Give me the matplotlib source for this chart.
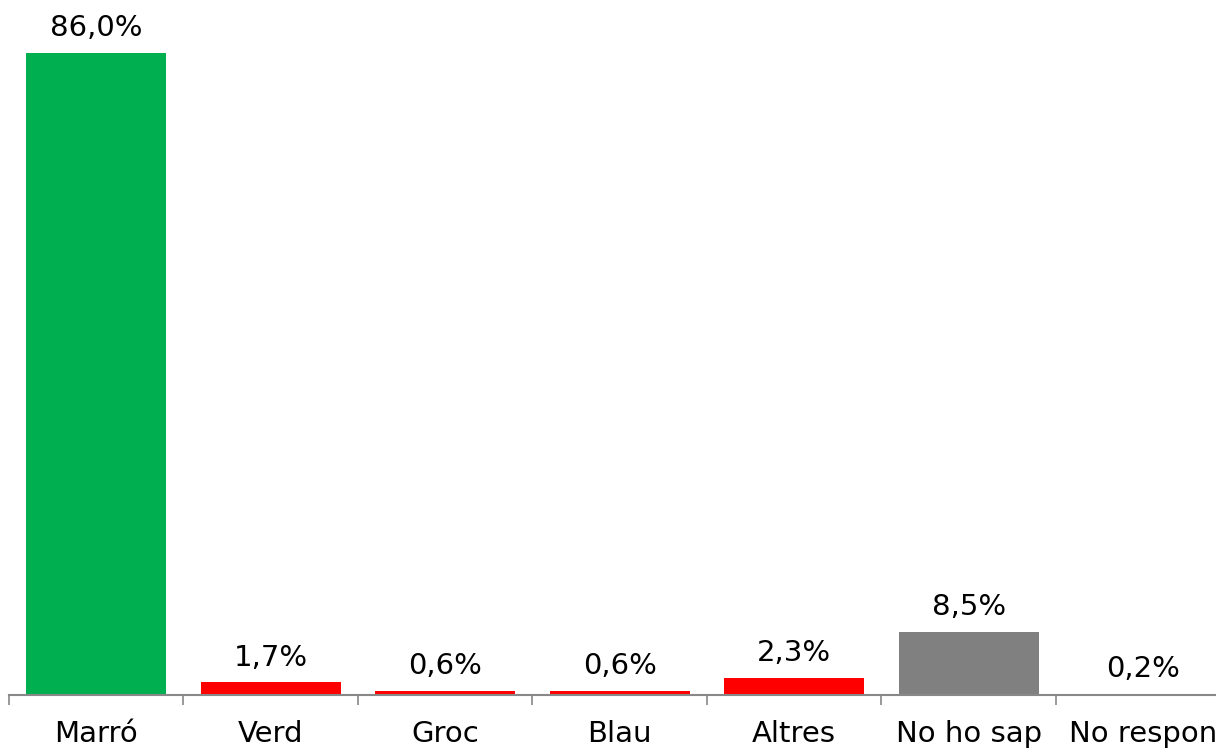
import numpy as np
import matplotlib
matplotlib.use("Agg")
from matplotlib import pyplot as plt

categories = ["Marró", "Verd", "Groc", "Blau", "Altres", "No ho sap", "No respon"]
values = [86.0, 1.7, 0.6, 0.6, 2.3, 8.5, 0.2]
colors = ["#00B050", "#FF0000", "#FF0000", "#FF0000", "#FF0000", "#808080", "#808080"]

plt.rcParams["font.family"] = "DejaVu Sans"

fig = plt.figure(figsize=(12.16, 7.56), dpi=100)
# axes spills past the right edge so the last category is cut, as in the original
ax = fig.add_axes([9 / 1216, 61 / 756, 7 * 174.5 / 1216, 642 / 756])

x = np.arange(len(categories))
bars = ax.bar(x, values, width=0.8, color=colors)

for xi, v in zip(x, values):
    label = f"{v:.1f}%".replace(".", ",")
    ax.annotate(label, (xi, v), xytext=(0, 12), textcoords="offset points",
                ha="center", va="baseline", fontsize=21)

ax.set_xlim(-0.5, len(categories) - 0.5)
ax.set_ylim(0, 86)

# boundary ticks without labels, category names on minor ticks
ax.set_xticks(np.arange(len(categories) + 1) - 0.5)
ax.set_xticklabels([])
ax.set_xticks(x, minor=True)
ax.set_xticklabels(categories, minor=True, fontsize=21)
ax.tick_params(axis="x", which="major", direction="out", length=7, width=1.2, color="#888888")
ax.tick_params(axis="x", which="minor", length=0, pad=18)
ax.set_yticks([])

for side in ["top", "right", "left"]:
    ax.spines[side].set_visible(False)
ax.spines["bottom"].set_color("#888888")
ax.spines["bottom"].set_linewidth(1.5)

fig.savefig("out.png", dpi=100)
